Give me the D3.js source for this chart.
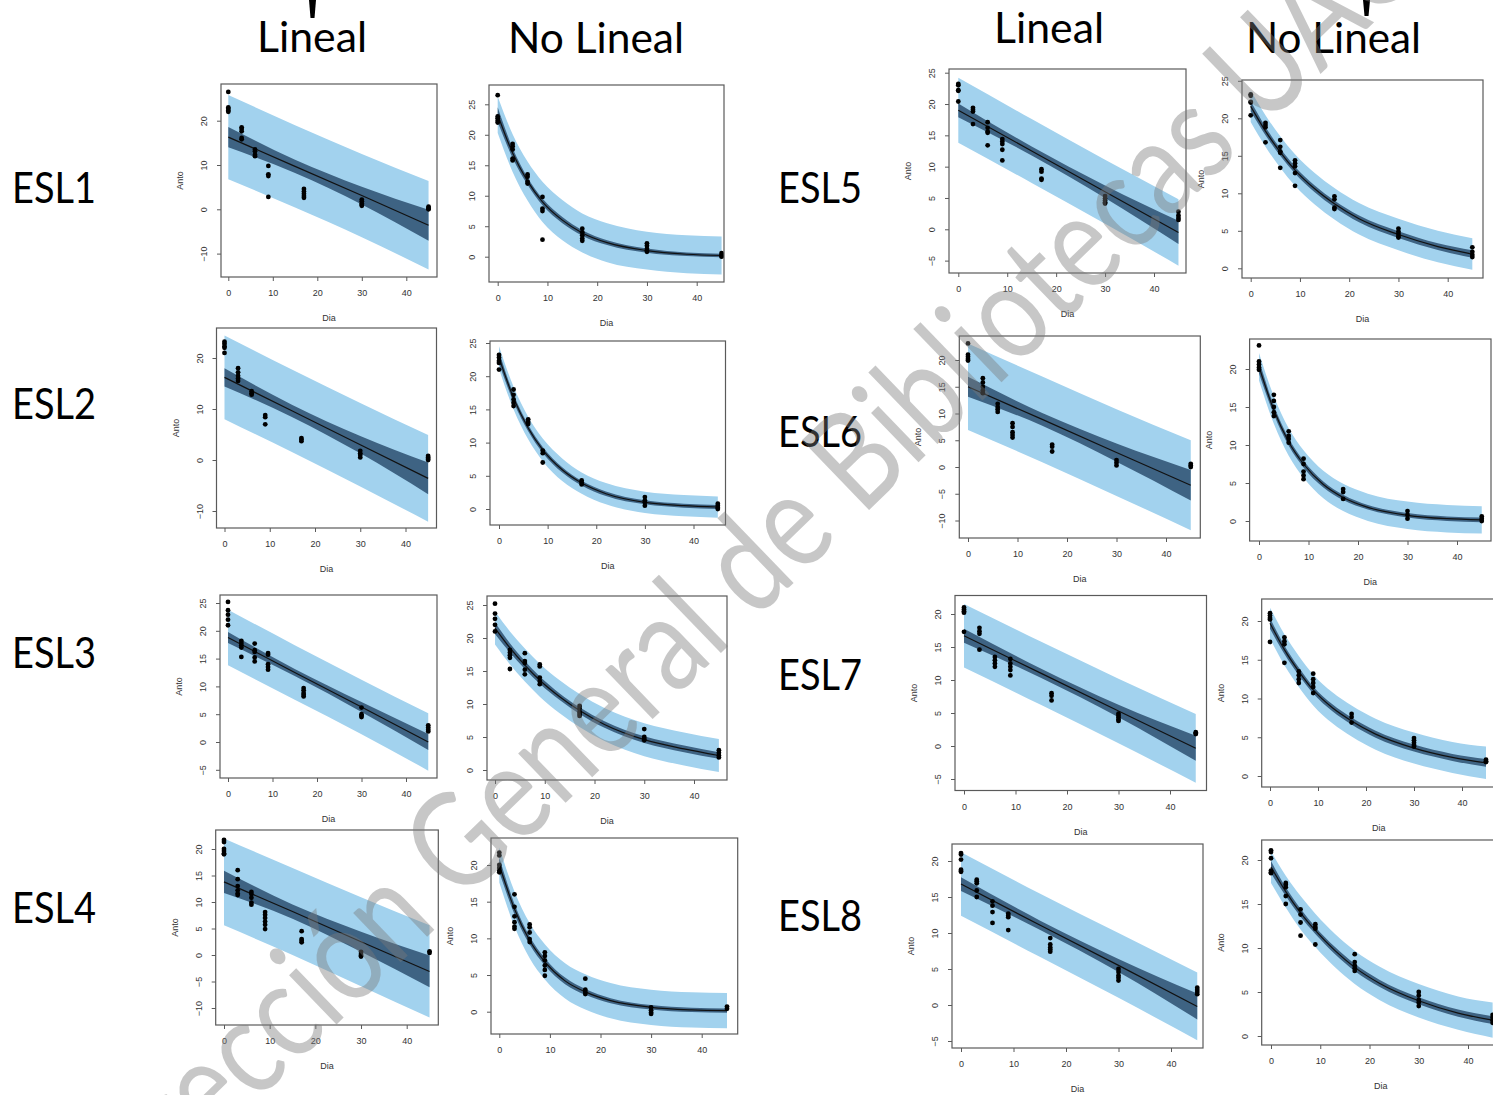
<!DOCTYPE html>
<html><head><meta charset="utf-8">
<script src="https://cdn.jsdelivr.net/npm/d3@7"></script>
<style>body{margin:0;background:#fff} svg{display:block}</style>
</head><body><svg id="c" width="1493" height="1095"></svg>
<script>
// ---------------- DATA ----------------
const groups = ["ESL1","ESL2","ESL3","ESL4","ESL5","ESL6","ESL7","ESL8"];
const headers = ["Lineal","No Lineal"];
const days = [0, 3, 6, 9, 17, 30, 45];
const xTicks = [0, 10, 20, 30, 40];
const yTicksA = [-10, 0, 10, 20];
const yTicksB = [0, 5, 10, 15, 20, 25];
const yTicksC = [-5, 0, 5, 10, 15, 20, 25];
const yTicksD = [-10, -5, 0, 5, 10, 15, 20];
const yTicksE = [0, 5, 10, 15, 20];
const yTicksF = [-5, 0, 5, 10, 15, 20];

// observed Anto per sampling day
const obsESL1 = [[26.5,23.0,22.7,22.3,22.0],[18.5,18.1,17.6,16.1,15.8],[13.5,13.1,12.3,12.0],[9.8,7.9,7.5,2.8],[4.6,4.0,3.5,3.0,2.6],[2.2,1.8,1.3,1.0,0.8],[0.6,0.3,0.1,0.0]];
const obsESL2 = [[23.2,22.8,22.3,22.0,21.0],[18.0,17.2,16.5,16.0,15.5],[13.5,13.1,12.8],[8.8,8.4,7.0],[4.3,4.0,3.7],[1.8,1.3,1.0,0.5],[0.8,0.5,0.2,0.0]];
const obsESL3 = [[25.2,23.7,22.9,22.0,21.0],[18.2,17.8,17.4,17.0,15.3],[17.7,16.5,16.2,15.2,14.5],[16.0,15.7,14.0,13.5,13.0],[9.7,9.3,8.8,8.5,8.2],[6.2,5.0,4.7,4.5],[3.0,2.6,2.2,1.9]];
const obsESL4 = [[21.7,21.3,20.0,19.6,19.2,19.0],[16.0,14.3,13.0,12.2,11.6,11.3],[11.9,11.5,10.8,9.9,9.5],[8.1,7.6,7.0,6.3,5.7,4.9],[4.5,3.0,2.7,2.4],[0.6,0.2,-0.1,-0.3],[0.7,0.4]];
const obsESL5 = [[23.2,23.0,22.2,22.1,20.4],[19.4,19.1,18.8,16.8],[17.1,16.2,15.6,15.4,13.4],[14.4,14.0,13.6,12.7,11.0],[9.6,9.2,8.1,7.9],[5.3,4.9,4.6,4.3,4.1],[2.8,2.2,1.8,1.5]];
const obsESL6 = [[23.1,21.0,20.6,20.2,19.9],[16.6,15.8,15.0,14.3,13.8],[11.8,11.2,10.8,10.3],[8.2,7.5,6.5,6.0,5.5],[4.2,3.8,2.9],[1.3,0.8,0.3],[0.6,0.3,0.0]];
const obsESL7 = [[21.0,20.7,20.4,20.2,17.3],[17.9,17.4,17.0,14.6],[13.5,13.0,12.5,12.0],[13.2,12.5,12.0,11.5,10.7],[8.0,7.6,6.9],[4.9,4.6,4.3,4.0,3.8],[2.1,1.9,1.8]];
const obsESL8 = [[21.1,20.9,20.2,18.8,18.6,18.5],[17.4,17.2,16.9,15.9,15.0],[14.4,13.8,12.9,11.4],[12.7,12.4,12.2,10.4],[9.3,8.4,8.0,7.7,7.4],[5.0,4.6,4.1,3.8,3.4],[2.4,2.1,1.8,1.5]];

// linear model: fitted value, confidence half-width, prediction half-width
const linDays = [0, 15, 30, 45];
const linFitESL1 = [16.3, 9.7, 3.1, -3.6], linCiESL1 = [2.3, 1.5, 2.0, 3.5], linPiESL1 = [9.5, 9.3, 9.4, 10.0];
const linFitESL2 = [16.2, 9.6, 3.0, -3.6], linCiESL2 = [1.8, 1.2, 1.7, 3.1], linPiESL2 = [8.2, 8.1, 8.2, 8.5];
const linFitESL3 = [18.8, 12.5, 6.3, 0.0],  linCiESL3 = [1.0, 0.65, 0.9, 1.45], linPiESL3 = [5.0, 4.9, 4.9, 5.15];
const linFitESL4 = [13.8, 8.2, 2.5, -3.1], linCiESL4 = [2.1, 1.35, 1.9, 3.0], linPiESL4 = [8.2, 8.2, 8.4, 8.7];
const linFitESL5 = [19.0, 12.5, 6.0, -0.5], linCiESL5 = [1.1, 0.72, 1.0, 1.85], linPiESL5 = [5.2, 5.1, 5.1, 5.3];
const linFitESL6 = [15.0, 8.9, 2.7, -3.4], linCiESL6 = [1.85, 1.2, 1.7, 2.85], linPiESL6 = [8.1, 8.0, 8.1, 8.4];
const linFitESL7 = [16.7, 11.0, 5.3, -0.35], linCiESL7 = [1.05, 0.7, 0.95, 1.9], linPiESL7 = [4.8, 4.8, 4.9, 5.2];
const linFitESL8 = [16.8, 11.1, 5.5, -0.2], linCiESL8 = [0.95, 0.65, 0.9, 1.8], linPiESL8 = [4.4, 4.4, 4.5, 4.7];

// non-linear model
const nlDays = [0, 3, 6, 9, 13, 17, 22, 30, 38, 45];
const nlFitESL1 = [23.3, 17.0, 12.4, 9.0, 6.0, 3.9, 2.3, 1.0, 0.4, 0.2];
const nlCiESL1  = [1.2, 0.8, 0.6, 0.55, 0.5, 0.45, 0.4, 0.35, 0.3, 0.3];
const nlPiESL1  = [3.0, 3.1, 3.2, 3.3, 3.3, 3.2, 3.2, 3.1, 3.1, 3.1];
const nlFitESL2 = [22.8, 16.7, 12.2, 8.9, 5.9, 3.9, 2.3, 1.0, 0.5, 0.3];
const nlCiESL2  = [0.9, 0.6, 0.5, 0.45, 0.4, 0.35, 0.35, 0.3, 0.3, 0.3];
const nlPiESL2  = [1.7, 1.7, 1.7, 1.7, 1.7, 1.6, 1.6, 1.6, 1.6, 1.6];
const nlFitESL3 = [21.5, 18.5, 15.9, 13.6, 11.1, 9.0, 6.9, 4.6, 3.2, 2.2];
const nlCiESL3  = [0.9, 0.7, 0.6, 0.55, 0.5, 0.5, 0.5, 0.5, 0.5, 0.5];
const nlPiESL3  = [2.5, 2.5, 2.5, 2.5, 2.5, 2.5, 2.5, 2.5, 2.5, 2.5];
const nlFitESL4 = [20.0, 14.0, 9.7, 6.8, 4.2, 2.7, 1.5, 0.6, 0.25, 0.15];
const nlCiESL4  = [1.0, 0.7, 0.55, 0.5, 0.45, 0.4, 0.35, 0.3, 0.3, 0.3];
const nlPiESL4  = [2.4, 2.4, 2.4, 2.4, 2.4, 2.4, 2.4, 2.4, 2.4, 2.4];
const nlFitESL5 = [21.6, 18.3, 15.5, 13.1, 10.6, 8.6, 6.6, 4.5, 2.9, 1.9];
const nlCiESL5  = [0.7, 0.55, 0.5, 0.45, 0.45, 0.45, 0.45, 0.45, 0.45, 0.5];
const nlPiESL5  = [2.1, 2.1, 2.1, 2.1, 2.1, 2.1, 2.1, 2.1, 2.1, 2.1];
const nlFitESL6 = [20.3, 14.6, 10.4, 7.5, 4.8, 3.1, 1.8, 0.75, 0.3, 0.15];
const nlCiESL6  = [0.9, 0.6, 0.5, 0.45, 0.4, 0.35, 0.3, 0.3, 0.3, 0.3];
const nlPiESL6  = [1.8, 1.8, 1.8, 1.8, 1.8, 1.8, 1.8, 1.8, 1.8, 1.8];
const nlFitESL7 = [19.7, 16.3, 13.5, 11.1, 8.8, 7.1, 5.4, 3.6, 2.4, 1.7];
const nlCiESL7  = [0.7, 0.55, 0.5, 0.45, 0.45, 0.45, 0.45, 0.45, 0.45, 0.5];
const nlPiESL7  = [2.0, 2.0, 2.0, 2.0, 2.0, 2.0, 2.0, 2.0, 2.0, 2.1];
const nlFitESL8 = [19.2, 16.4, 14.0, 12.0, 9.7, 7.8, 6.0, 4.0, 2.6, 1.8];
const nlCiESL8  = [0.7, 0.5, 0.45, 0.4, 0.4, 0.4, 0.4, 0.4, 0.4, 0.45];
const nlPiESL8  = [1.8, 1.8, 1.9, 1.9, 1.9, 1.9, 1.9, 1.9, 1.9, 2.0];

const watermark = "Dirección General de Bibliotecas UAQ";

// ---------------- LAYOUT (pixels) ----------------
const layout = [
  {g:"ESL1", k:"L",  box:[221,84,437,277],      xc:[228.3,406.3],  yc:[20,120.7,0,209.3], t:yTicksA, anto:true,  dia:true},
  {g:"ESL1", k:"NL", box:[489,85,724,282],      xc:[497.7,696.7],  yc:[25,104.3,0,256.7], t:yTicksB, anto:false, dia:true},
  {g:"ESL2", k:"L",  box:[216.5,328,436.5,528], xc:[224.5,405.5],  yc:[20,358,0,460],     t:yTicksA, anto:true,  dia:true},
  {g:"ESL2", k:"NL", box:[490,341,725.5,525],   xc:[499,693.5],    yc:[25,343,0,509],     t:yTicksB, anto:false, dia:true},
  {g:"ESL3", k:"L",  box:[220,595,437,778],     xc:[228,406],      yc:[25,603,0,742],     t:yTicksC, anto:true,  dia:true},
  {g:"ESL3", k:"NL", box:[487,596,727,780],     xc:[495,694],      yc:[25,605,0,770],     t:yTicksB, anto:false, dia:true},
  {g:"ESL4", k:"L",  box:[215.7,830,438.3,1025],xc:[224,406.7],    yc:[20,849,0,955],     t:yTicksD, anto:true,  dia:true},
  {g:"ESL4", k:"NL", box:[491,838,737.7,1034],  xc:[499.3,701.7],  yc:[20,865,0,1011.7],  t:yTicksE, anto:true,  dia:false},
  {g:"ESL5", k:"L",  box:[949,69,1186,273],     xc:[958.3,1154],   yc:[25,72.7,0,229.3],  t:yTicksC, anto:true,  dia:true},
  {g:"ESL5", k:"NL", box:[1242,80,1483,278],    xc:[1250.7,1447.7],yc:[20,118.3,0,268.3], t:yTicksB, anto:true,  dia:true},
  {g:"ESL6", k:"L",  box:[959.3,336,1200.3,538],xc:[968,1166],     yc:[20,360,0,467],     t:yTicksD, anto:true,  dia:true},
  {g:"ESL6", k:"NL", box:[1249.6,339,1491,541], xc:[1259,1457],    yc:[20,369,0,521],     t:yTicksE, anto:true,  dia:true},
  {g:"ESL7", k:"L",  box:[955,595.5,1206.5,790.5],xc:[964,1170],   yc:[20,614,0,746],     t:yTicksF, anto:true,  dia:true},
  {g:"ESL7", k:"NL", box:[1261.7,599,1496,787], xc:[1270,1462],    yc:[20,621,0,776],     t:yTicksE, anto:true,  dia:true},
  {g:"ESL8", k:"L",  box:[952,844,1203,1048],   xc:[961,1171],     yc:[20,861,0,1005],    t:yTicksF, anto:true,  dia:true},
  {g:"ESL8", k:"NL", box:[1261.7,840,1500,1045],xc:[1271,1468],    yc:[20,860,0,1036],    t:yTicksE, anto:true,  dia:true}
];
const rowLabels = [
  {x:12, y:188, w:84}, {x:12, y:404, w:84}, {x:12, y:653, w:84}, {x:12, y:908, w:84},
  {x:778, y:188, w:84}, {x:778, y:432, w:84}, {x:778, y:675, w:84}, {x:778, y:916, w:84}
];
const headerPos = [
  {x:257, y:37, w:110, i:0}, {x:508, y:38, w:176, i:1},
  {x:994, y:28, w:110, i:0}, {x:1246, y:38, w:175, i:1}
];

// ---------------- BUILD ----------------
const obsBy = {ESL1:obsESL1, ESL2:obsESL2, ESL3:obsESL3, ESL4:obsESL4, ESL5:obsESL5, ESL6:obsESL6, ESL7:obsESL7, ESL8:obsESL8};
const linBy = {
  ESL1:[linFitESL1,linCiESL1,linPiESL1], ESL2:[linFitESL2,linCiESL2,linPiESL2],
  ESL3:[linFitESL3,linCiESL3,linPiESL3], ESL4:[linFitESL4,linCiESL4,linPiESL4],
  ESL5:[linFitESL5,linCiESL5,linPiESL5], ESL6:[linFitESL6,linCiESL6,linPiESL6],
  ESL7:[linFitESL7,linCiESL7,linPiESL7], ESL8:[linFitESL8,linCiESL8,linPiESL8]};
const nlBy = {
  ESL1:[nlFitESL1,nlCiESL1,nlPiESL1], ESL2:[nlFitESL2,nlCiESL2,nlPiESL2],
  ESL3:[nlFitESL3,nlCiESL3,nlPiESL3], ESL4:[nlFitESL4,nlCiESL4,nlPiESL4],
  ESL5:[nlFitESL5,nlCiESL5,nlPiESL5], ESL6:[nlFitESL6,nlCiESL6,nlPiESL6],
  ESL7:[nlFitESL7,nlCiESL7,nlPiESL7], ESL8:[nlFitESL8,nlCiESL8,nlPiESL8]};

const svg = d3.select("#c");
svg.append("rect").attr("width",1493).attr("height",1095).attr("fill","#fff");

const PI_COL = "#a2d2ee", CI_COL = "#3e6383", AX_COL = "#5a5a5a", TXT_COL = "#333";
const tickFont = "Liberation Sans, Arial, sans-serif";

layout.forEach(p => {
  const x = d3.scaleLinear().domain([0, 40]).range(p.xc);
  const y = d3.scaleLinear().domain([p.yc[0], p.yc[2]]).range([p.yc[1], p.yc[3]]);
  const lin = p.k === "L";
  const gd = lin ? linDays : nlDays;
  const [fit, ci, pi] = lin ? linBy[p.g] : nlBy[p.g];
  const rows = gd.map((d, i) => ({d, f: fit[i], c: ci[i], p: pi[i]}));
  const [bx0, by0, bx1, by1] = p.box;
  const g = svg.append("g");
  const curve = d3.curveMonotoneX;
  const band = k => d3.area().x(r => x(r.d)).y0(r => y(r.f - r[k])).y1(r => y(r.f + r[k])).curve(curve);

  g.append("path").datum(rows).attr("d", band("p")).attr("fill", PI_COL);
  g.append("path").datum(rows).attr("d", band("c")).attr("fill", CI_COL);
  g.append("path").datum(rows)
    .attr("d", d3.line().x(r => x(r.d)).y(r => y(r.f)).curve(lin ? d3.curveLinear : curve))
    .attr("fill", "none").attr("stroke", "#111").attr("stroke-width", 1.2);

  const pts = days.flatMap((d, i) => obsBy[p.g][i].map(v => ({d, v})));
  g.selectAll("circle.pt").data(pts).join("circle").attr("class","pt")
    .attr("cx", r => x(r.d)).attr("cy", r => y(r.v)).attr("r", 2.4).attr("fill", "#000");

  // box
  g.append("rect").attr("x", bx0).attr("y", by0).attr("width", bx1 - bx0).attr("height", by1 - by0)
    .attr("fill", "none").attr("stroke", AX_COL).attr("stroke-width", 1.2);

  // x axis
  const xa = g.append("g").attr("transform", `translate(0,${by1})`)
    .call(d3.axisBottom(x).tickValues(xTicks).tickSize(4).tickPadding(9).tickFormat(d3.format("d")));
  xa.select(".domain").remove();
  xa.selectAll("line").attr("stroke", AX_COL);
  xa.selectAll("text").attr("fill", TXT_COL).style("font-family", tickFont).style("font-size", "9px");

  // y axis (labels parallel to axis)
  const ya = g.append("g").attr("transform", `translate(${bx0},0)`)
    .call(d3.axisLeft(y).tickValues(p.t).tickSize(4).tickFormat(d3.format("d")));
  ya.select(".domain").remove();
  ya.selectAll("line").attr("stroke", AX_COL);
  ya.selectAll("text").attr("transform", "rotate(-90)").attr("x", 0).attr("y", -17).attr("dy", "0.35em")
    .attr("text-anchor", "middle").attr("fill", TXT_COL).style("font-family", tickFont).style("font-size", "9px");

  if (p.dia) {
    g.append("text").attr("x", (bx0 + bx1) / 2).attr("y", by1 + 44).attr("text-anchor", "middle")
      .attr("fill", TXT_COL).style("font-family", tickFont).style("font-size", "9px").text("Dia");
  }
  if (p.anto) {
    g.append("text").attr("transform", `translate(${bx0 - 38},${(by0 + by1) / 2}) rotate(-90)`)
      .attr("text-anchor", "middle").attr("fill", TXT_COL).style("font-family", tickFont).style("font-size", "9px").text("Anto");
  }
});

// row labels
svg.selectAll("text.row").data(groups).join("text").attr("class","row")
  .attr("x", (d, i) => rowLabels[i].x).attr("y", (d, i) => rowLabels[i].y + 15)
  .attr("textLength", (d, i) => rowLabels[i].w).attr("lengthAdjust", "spacingAndGlyphs")
  .style("font-family", "Lato, 'Open Sans', sans-serif").style("font-size", "42px").attr("fill", "#000")
  .text(d => d);

// column headers
svg.selectAll("text.hdr").data(headerPos).join("text").attr("class","hdr")
  .attr("x", d => d.x).attr("y", d => d.y + 15)
  .attr("textLength", d => d.w).attr("lengthAdjust", "spacingAndGlyphs")
  .style("font-family", "Lato, 'Open Sans', sans-serif").style("font-size", "42px").attr("fill", "#000")
  .text(d => headers[d.i]);

// cropped bracket tips at the top
svg.append("path").attr("d", "M309,0 L316,0 L314.5,18 L310.5,18 Z").attr("fill", "#000");
svg.append("path").attr("d", "M1363,0 L1370,0 L1368.5,16 L1364.5,16 Z").attr("fill", "#000");

// watermark
svg.append("text").attr("transform", "translate(748,580) rotate(-44)")
  .attr("text-anchor", "middle").attr("dy", "0.25em")
  .attr("textLength", 1850).attr("lengthAdjust", "spacingAndGlyphs")
  .style("font-family", "Lato, 'Open Sans', sans-serif").style("font-size", "135px")
  .attr("fill", "#7a7a7a").attr("fill-opacity", 0.42)
  .text(watermark);
</script></body></html>
